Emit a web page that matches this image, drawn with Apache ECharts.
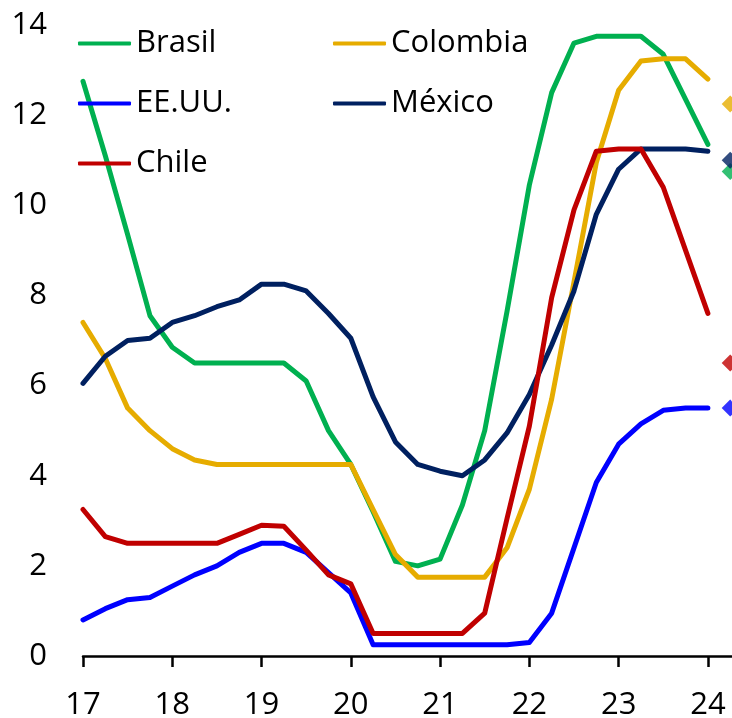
<!DOCTYPE html>
<html>
<head>
<meta charset="utf-8">
<script src="https://cdn.jsdelivr.net/npm/echarts@6/dist/echarts.min.js"></script>
<style>
  html, body { margin: 0; padding: 0; background: #fff; }
  #chart { width: 732px; height: 718px; }
</style>
</head>
<body>
<div id="chart"></div>
<script>
// Trimestres (año + fracción), 2017T1 .. 2024T1
const quarters = [17, 17.25, 17.5, 17.75, 18, 18.25, 18.5, 18.75, 19, 19.25, 19.5, 19.75,
  20, 20.25, 20.5, 20.75, 21, 21.25, 21.5, 21.75, 22, 22.25, 22.5, 22.75, 23, 23.25, 23.5, 23.75, 24];

// Tasas de política monetaria (%)
const brasil = [12.75, 11.1, 9.35, 7.55, 6.85, 6.5, 6.5, 6.5, 6.5, 6.5, 6.1, 5.0,
  4.25, 3.2, 2.1, 2.0, 2.15, 3.35, 5.0, 7.65, 10.45, 12.5, 13.6, 13.75, 13.75, 13.75, 13.35, 12.35, 11.35];
const colombia = [7.4, 6.6, 5.5, 5.0, 4.6, 4.35, 4.25, 4.25, 4.25, 4.25, 4.25, 4.25,
  4.25, 3.25, 2.25, 1.75, 1.75, 1.75, 1.75, 2.4, 3.7, 5.7, 8.3, 10.95, 12.55, 13.2, 13.25, 13.25, 12.8];
const eeuu = [0.8, 1.05, 1.25, 1.3, 1.55, 1.8, 2.0, 2.3, 2.5, 2.5, 2.3, 1.85,
  1.4, 0.25, 0.25, 0.25, 0.25, 0.25, 0.25, 0.25, 0.3, 0.95, 2.4, 3.85, 4.7, 5.15, 5.45, 5.5, 5.5];
const mexico = [6.05, 6.65, 7.0, 7.05, 7.4, 7.55, 7.75, 7.9, 8.25, 8.25, 8.1, 7.6,
  7.05, 5.75, 4.75, 4.25, 4.1, 4.0, 4.35, 4.95, 5.8, 6.9, 8.1, 9.8, 10.8, 11.25, 11.25, 11.25, 11.2];
const chile = [3.25, 2.65, 2.5, 2.5, 2.5, 2.5, 2.5, 2.7, 2.9, 2.88, 2.35, 1.8,
  1.6, 0.5, 0.5, 0.5, 0.5, 0.5, 0.95, 3.05, 5.1, 7.95, 9.9, 11.2, 11.25, 11.25, 10.4, 9.0, 7.6];

// Proyección a fin de 2024 (rombos)
const forecastX = 24.25;
const forecast = { 'Brasil': 10.75, 'Colombia': 12.25, 'EE.UU.': 5.5, 'México': 11.0, 'Chile': 6.5 };

// Ejes
const yearTicks = [17, 18, 19, 20, 21, 22, 23, 24];
const yearLabels = ['17', '18', '19', '20', '21', '22', '23', '24'];

const FONT = 'Open Sans';
const colors = {
  'Brasil': '#00B050',
  'Colombia': '#E6AC00',
  'EE.UU.': '#0000FF',
  'México': '#002060',
  'Chile': '#C00000'
};
const seriesValues = [
  ['Brasil', brasil],
  ['Colombia', colombia],
  ['EE.UU.', eeuu],
  ['México', mexico],
  ['Chile', chile]
];

const lineSeries = seriesValues.map(([name, vals]) => ({
  name: name,
  type: 'line',
  data: quarters.map((q, i) => [q, vals[i]]),
  showSymbol: false,
  symbol: 'none',
  lineStyle: { width: 5, color: colors[name], cap: 'round', join: 'round' },
  itemStyle: { color: colors[name] },
  z: 2
}));

const diamondSeries = seriesValues.map(([name]) => ({
  name: name + ' 2024',
  type: 'scatter',
  symbol: 'diamond',
  symbolSize: 17,
  data: [[forecastX, forecast[name]]],
  itemStyle: { color: colors[name] },
  clip: false,
  z: 3
}));

// Leyenda: trazo corto horizontal + texto, en dos columnas
const legendBase = {
  orient: 'vertical',
  top: 28,
  padding: 0,
  icon: 'roundRect',
  itemWidth: 53,
  itemHeight: 4,
  itemGap: 29,
  selectedMode: false,
  textStyle: { fontSize: 31, lineHeight: 31, fontFamily: FONT, color: '#000' }
};

const chart = echarts.init(document.getElementById('chart'), null, { renderer: 'canvas' });
chart.setOption({
  animation: false,
  backgroundColor: '#fff',
  textStyle: { fontFamily: FONT },
  grid: { left: 83, right: 0, top: 25, bottom: 62, containLabel: false, outerBoundsMode: 'none' },
  legend: [
    Object.assign({}, legendBase, { left: 78, data: ['Brasil', 'EE.UU.', 'Chile'] }),
    Object.assign({}, legendBase, { left: 333, data: ['Colombia', 'México'] })
  ],
  xAxis: {
    type: 'value',
    min: 17,
    max: 24.27,
    axisLine: { show: true, onZero: true, lineStyle: { color: '#000', width: 2.5 } },
    axisTick: { show: true, customValues: yearTicks, length: 11, inside: false,
      lineStyle: { color: '#000', width: 2.5 } },
    axisLabel: {
      customValues: yearTicks,
      formatter: v => yearLabels[yearTicks.indexOf(Math.round(v))],
      margin: 34,
      fontSize: 31,
      fontFamily: FONT,
      color: '#000'
    },
    splitLine: { show: false }
  },
  yAxis: {
    type: 'value',
    min: 0,
    max: 14,
    interval: 2,
    axisLine: { show: false },
    axisTick: { show: false },
    splitLine: { show: false },
    axisLabel: { margin: 36, fontSize: 31, fontFamily: FONT, color: '#000', padding: [5, 0, 0, 0] }
  },
  series: lineSeries.concat(diamondSeries)
});
</script>
</body>
</html>
